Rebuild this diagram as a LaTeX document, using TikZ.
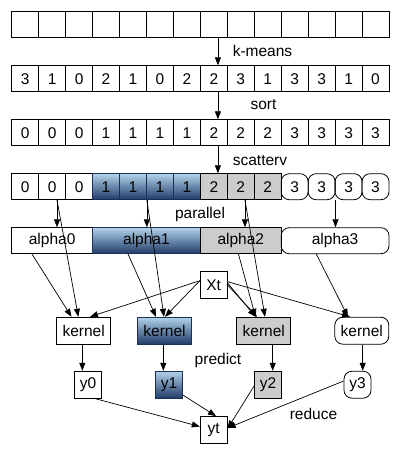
\documentclass[tikz,border=0pt]{standalone}
\usepackage{fontspec}
\setmainfont{Liberation Sans}
\usetikzlibrary{arrows.meta,calc}
\definecolor{bluetop}{RGB}{178,210,234}
\definecolor{bluebot}{RGB}{30,58,104}
\definecolor{blueedge}{RGB}{28,48,86}
\definecolor{grayfill}{RGB}{204,204,204}
\begin{document}
\begin{tikzpicture}[x=1pt,y=-1pt,
  font=\fontsize{15.5}{18}\selectfont,
  box/.style={draw, line width=0.8pt, inner sep=0pt, anchor=center},
  cell/.style={box, minimum width=26.95pt, minimum height=26pt},
  bluebox/.style={draw=blueedge, top color=bluetop, bottom color=bluebot},
  graybox/.style={fill=grayfill},
  roundbox/.style={rounded corners=8pt},
  kbox/.style={box, minimum width=54pt, minimum height=27pt},
  sbox/.style={box, minimum width=27pt, minimum height=27pt},
  lbl/.style={inner sep=0pt, anchor=center},
  arr/.style={-{Triangle[length=8pt,width=6pt]}, line width=0.7pt}]
\useasboundingbox (0,0) rectangle (400,454);
\fill[white] (0,0) rectangle (400,454);

% row 1: empty
\foreach \i in {0,...,13}
  \node[cell] (r1c\i) at ({11.7+26.95*(\i+0.5)},24.7) {};
% row 2
\foreach \v [count=\i from 0] in {3,1,0,2,1,0,2,2,3,1,3,3,1,0}
  \node[cell] (r2c\i) at ({11.7+26.95*(\i+0.5)},78.7) {\v};
% row 3
\foreach \v [count=\i from 0] in {0,0,0,1,1,1,1,2,2,2,3,3,3,3}
  \node[cell] (r3c\i) at ({11.7+26.95*(\i+0.5)},132.7) {\v};
% row 4
\foreach \i in {0,1,2}
  \node[cell] (r4c\i) at ({11.7+26.95*(\i+0.5)},186.7) {0};
\foreach \i in {3,4,5,6}
  \node[cell,bluebox] (r4c\i) at ({11.7+26.95*(\i+0.5)},186.7) {1};
\foreach \i in {7,8,9}
  \node[cell,graybox] (r4c\i) at ({11.7+26.95*(\i+0.5)},186.7) {2};
\foreach \i in {10,11,12,13}
  \node[cell,roundbox] (r4c\i) at ({11.7+26.95*(\i+0.5)},186.7) {3};

% alpha row
\node[box, minimum width=80.85pt, minimum height=26pt] (alpha0) at (52.125,240.7) {alpha0};
\node[box, bluebox, minimum width=107.8pt, minimum height=26pt] (alpha1) at (146.45,240.7) {alpha1};
\node[box, graybox, minimum width=80.85pt, minimum height=26pt] (alpha2) at (240.775,240.7) {alpha2};
\node[box, roundbox, minimum width=107.8pt, minimum height=26pt] (alpha3) at (335.1,240.7) {alpha3};

% Xt, kernels, outputs
\node[sbox] (Xt) at (213.7,285.3) {Xt};
\node[kbox] (kernel0) at (83.7,330.7) {kernel};
\node[kbox,bluebox] (kernel1) at (164.5,330.7) {kernel};
\node[kbox,graybox] (kernel2) at (263.8,330.7) {kernel};
\node[kbox,roundbox] (kernel3) at (361.8,330.7) {kernel};
\node[sbox] (y0) at (88,384.7) {y0};
\node[sbox,bluebox] (y1) at (169,384.7) {y1};
\node[sbox,graybox] (y2) at (268,384.7) {y2};
\node[sbox,roundbox] (y3) at (357.5,384.7) {y3};
\node[sbox] (yt) at (213.7,430) {yt};

% labels
\node[lbl] (lkm) at (262.5,51) {k-means};
\node[lbl] (lsort) at (263.5,104.5) {sort};
\node[lbl] (lsc) at (260,161) {scatterv};
\node[lbl] (lpar) at (200,214) {parallel};
\node[lbl] (lpred) at (218,360) {predict};
\node[lbl] (lred) at (313.5,413.5) {reduce};

% row-to-row arrows
\coordinate (a1) at ($(r1c7.south)+(4.1,0)$);
\coordinate (a2) at ($(r2c7.south)+(4.1,0)$);
\coordinate (a3) at ($(r3c7.south)+(4.1,0)$);
\draw[arr] (a1) -- (a1 |- r2c7.north);
\draw[arr] (a2) -- (a2 |- r3c7.north);
\draw[arr] (a3) -- (a3 |- r4c7.north);

% group points on row 4
\coordinate (g0) at ($(r4c1.south)+(4.9,0)$);
\coordinate (g1) at (r4c4.south east);
\coordinate (g2) at ($(r4c8.south)+(4.2,0)$);
\coordinate (g3) at (r4c11.south east);
\draw[arr] (g0) -- (g0 |- alpha0.north);
\draw[arr] (g1) -- (g1 |- alpha1.north);
\draw[arr] (g2) -- (g2 |- alpha2.north);
\draw[arr] (g3) -- (g3 |- alpha3.north);

% row 4 to kernels
\draw[arr] (g0) -- ($(kernel0.north)+(-5.4,0)$);
\draw[arr] (g1) -- ($(kernel1.north)+(-0.5,0)$);
\draw[arr] (g2) -- ($(kernel2.north)+(1.2,0)$);

% alpha to kernels
\draw[arr] ($(alpha0.south)+(-20.1,0)$) -- ($(kernel0.north)+(-12.2,0)$);
\draw[arr] ($(alpha1.south)+(-18.4,0)$) -- ($(kernel1.north)+(-8.5,0)$);
\draw[arr] ($(alpha2.south)+(-2.3,0)$) -- ($(kernel2.north)+(-8.3,0)$);
\draw[arr] ($(alpha3.south)+(-18.8,0)$) -- ($(kernel3.north)+(-13.8,0)$);

% Xt to kernels
\draw[arr] ($(Xt.west)+(0,-4.6)$) -- ($(kernel0.north)+(6.3,0)$);
\draw[arr] ($(Xt.west)+(0,-4.6)$) -- ($(kernel1.north)+(0.5,0)$);
\draw[arr] ($(Xt.east)+(0,-2.3)$) -- ($(kernel2.north)+(-8.3,0)$);
\draw[arr] ($(Xt.east)+(0,-0.3)$) -- ($(kernel2.north)+(-6.8,0)$);
\draw[arr] ($(Xt.east)+(0,-3.6)$) -- ($(kernel3.north)+(-11.8,0)$);

% kernels to outputs
\coordinate (k0) at ($(kernel0.south)+(-1.4,0)$);
\coordinate (k1) at ($(kernel1.south)+(-1.2,0)$);
\coordinate (k2) at ($(kernel2.south)+(8.9,0)$);
\coordinate (k3) at ($(kernel3.south)+(0.9,0)$);
\draw[arr] (k0) -- (k0 |- y0.north);
\draw[arr] (k1) -- (k1 |- y1.north);
\draw[arr] (k2) -- (k2 |- y2.north);
\draw[arr] (k3) -- (k3 |- y3.north);

% outputs to yt
\draw[arr] ($(y0.south)+(7,0)$) -- ($(yt.west)+(0,-3.5)$);
\draw[arr] ($(y1.east)+(0,10.3)$) -- ($(yt.north)+(2.3,0)$);
\draw[arr] ($(y2.west)+(0,1.3)$) -- ($(yt.east)+(0,-1.5)$);
\draw[arr] ($(y3.west)+(0,-3.7)$) -- ($(yt.east)+(0,-2)$);
\end{tikzpicture}
\end{document}
